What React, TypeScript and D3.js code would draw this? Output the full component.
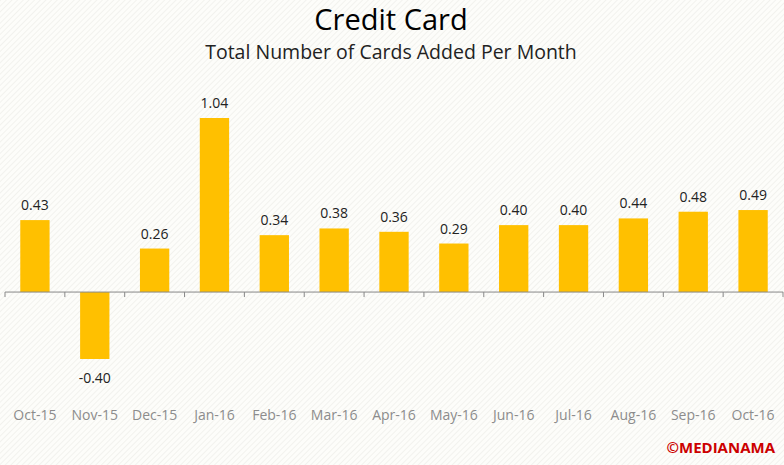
import React, { useEffect, useRef } from "react";
import * as d3 from "d3";

const months = ["Oct-15", "Nov-15", "Dec-15", "Jan-16", "Feb-16", "Mar-16", "Apr-16", "May-16", "Jun-16", "Jul-16", "Aug-16", "Sep-16", "Oct-16"];
const values = [0.43, -0.4, 0.26, 1.04, 0.34, 0.38, 0.36, 0.29, 0.4, 0.4, 0.44, 0.48, 0.49];

const width = 784;
const height = 465;
const font = "'Open Sans', 'Noto Sans', sans-serif";

const App: React.FC = () => {
  const svgRef = useRef<SVGSVGElement>(null);

  useEffect(() => {
    if (!svgRef.current) return;
    const svg = d3.select(svgRef.current);
    svg.selectAll("*").remove();

    // Striped background
    const defs = svg.append("defs");
    const pat = defs
      .append("pattern")
      .attr("id", "stripes")
      .attr("patternUnits", "userSpaceOnUse")
      .attr("width", 4)
      .attr("height", 4)
      .attr("patternTransform", "rotate(45)");
    pat.append("rect").attr("width", 4).attr("height", 4).attr("fill", "#fdfdfa");
    pat.append("line").attr("x1", 0).attr("y1", 0).attr("x2", 0).attr("y2", 4).attr("stroke", "#ecece6").attr("stroke-width", 1.2);
    svg.append("rect").attr("width", width).attr("height", height).attr("fill", "url(#stripes)");

    const x = d3.scaleBand().domain(months).range([5, 783]).paddingInner(0).paddingOuter(0);
    const y = d3.scaleLinear().domain([-0.4, 1.04]).range([359, 118]);
    const barW = x.bandwidth() * 0.49;

    // Bars
    svg
      .selectAll(".bar")
      .data(values)
      .enter()
      .append("rect")
      .attr("x", (_, i) => (x(months[i]) || 0) + (x.bandwidth() - barW) / 2)
      .attr("y", (d) => y(Math.max(0, d)))
      .attr("width", barW)
      .attr("height", (d) => Math.abs(y(d) - y(0)))
      .attr("fill", "#ffc000");

    // Axis
    const axis = svg.append("g").attr("transform", `translate(0,${y(0)})`);
    axis.append("line").attr("x1", 5).attr("x2", 783).attr("stroke", "#888").attr("stroke-width", 1);
    months.concat([""]).forEach((m, i) => {
      const tx = i < months.length ? x(m) || 0 : 783;
      axis.append("line").attr("x1", tx).attr("x2", tx).attr("y1", 0).attr("y2", 5).attr("stroke", "#888");
    });

    // Value labels
    svg
      .selectAll(".val")
      .data(values)
      .enter()
      .append("text")
      .attr("x", (_, i) => (x(months[i]) || 0) + x.bandwidth() / 2)
      .attr("y", (d) => (d >= 0 ? y(d) - 10 : y(d) + 24))
      .attr("text-anchor", "middle")
      .attr("font-family", font)
      .attr("font-size", 14)
      .attr("fill", "#222")
      .text((d) => d.toFixed(2));

    // Category labels
    svg
      .selectAll(".cat")
      .data(months)
      .enter()
      .append("text")
      .attr("x", (m) => (x(m) || 0) + x.bandwidth() / 2)
      .attr("y", 420)
      .attr("text-anchor", "middle")
      .attr("font-family", font)
      .attr("font-size", 14)
      .attr("fill", "#8c8c8c")
      .text((m) => m);

    // Titles
    svg
      .append("text")
      .attr("x", 391)
      .attr("y", 30)
      .attr("text-anchor", "middle")
      .attr("font-family", font)
      .attr("font-size", 29)
      .attr("fill", "#000")
      .text("Credit Card");
    svg
      .append("text")
      .attr("x", 391)
      .attr("y", 59)
      .attr("text-anchor", "middle")
      .attr("font-family", font)
      .attr("font-size", 19.5)
      .attr("fill", "#222")
      .text("Total Number of Cards Added Per Month");

    // Watermark
    svg
      .append("text")
      .attr("x", 775)
      .attr("y", 453)
      .attr("text-anchor", "end")
      .attr("font-family", font)
      .attr("font-size", 15)
      .attr("font-weight", "bold")
      .attr("fill", "#cc0000")
      .text("©MEDIANAMA");
  }, []);

  return (
    <svg
      ref={svgRef}
      width={width}
      height={height}
      style={{ position: "absolute", left: 0, top: 0, display: "block" }}
    />
  );
};

export default App;
